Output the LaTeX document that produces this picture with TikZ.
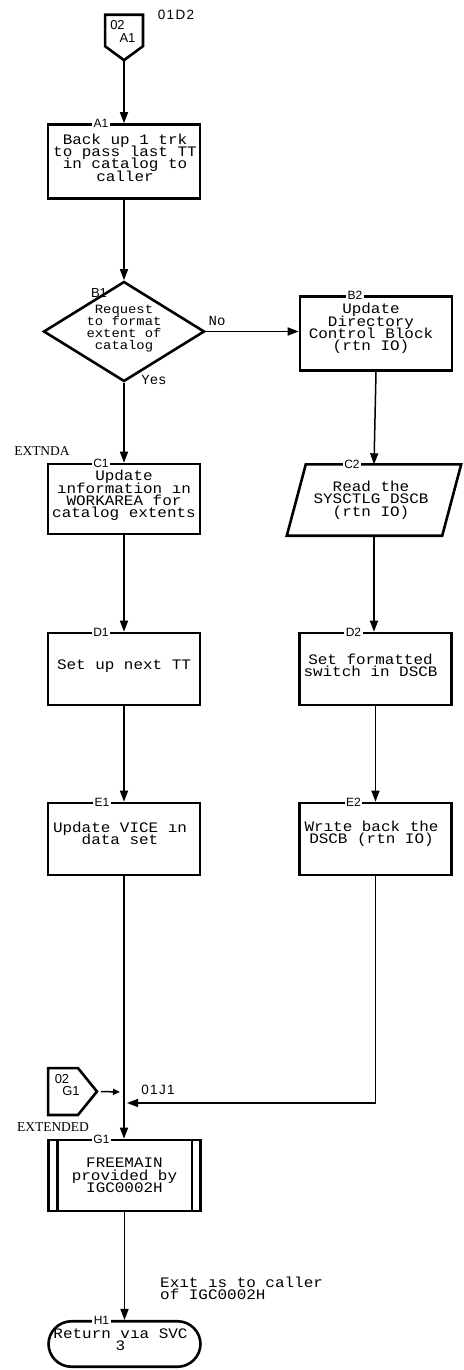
\documentclass[tikz,border=0pt]{standalone}
\usepackage{fontspec}
\setmainfont{Liberation Serif}
\newfontfamily\monof[FakeStretch=1.1]{Liberation Mono}
\newfontfamily\monoplain{Liberation Mono}
\newfontfamily\sansf{Liberation Sans}
\newfontfamily\sansw[LetterSpace=10]{Liberation Sans}
\usetikzlibrary{arrows.meta,shapes.geometric}
\newcommand\tightls{\setlength{\lineskiplimit}{-30pt}\setlength{\lineskip}{0pt}}
\newcommand\boxfont{\monof\fontsize{14.5}{12.3}\selectfont\tightls}
\newcommand\dfont{\monof\fontsize{12.6}{11.8}\selectfont\tightls}
\begin{document}
\begin{tikzpicture}[x=1pt,y=-1pt,
  thick line/.style={line width=2.6pt},
  box/.style={draw, thick line, minimum width=152pt, minimum height=72pt, inner sep=0pt},
  txt/.style={font=\boxfont, align=center, inner sep=0pt},
  dtxt/.style={font=\dfont, align=center, inner sep=0pt},
  lbl/.style={font=\sansf\fontsize{12}{12}\selectfont, fill=white, inner xsep=1.5pt, inner ysep=0pt},
  idlbl/.style={font=\sansf\fontsize{13}{13}\selectfont, inner sep=0pt},
  yn/.style={font=\monoplain\fontsize{14}{14}\selectfont, inner sep=0pt},
  ref/.style={font=\sansw\fontsize{13.5}{13.5}\selectfont, inner sep=0pt},
  entry/.style={font=\fontsize{13.5}{13.5}\selectfont, inner sep=0pt},
  conn/.style={line width=1.5pt},
  arr/.style={conn, -{Triangle[length=11pt,width=8pt]}},
  sarr/.style={conn, -{Triangle[length=7pt,width=6pt]}},
]
\useasboundingbox (0,0) rectangle (463,1370);

% off-page connector 02 A1
\node[minimum width=37.5pt, minimum height=45pt, inner sep=0pt] (OP1) at (124,37.5) {};
\draw[thick line, line join=miter] (OP1.north west) -- (OP1.north east) -- ([yshift=14pt]OP1.south east) -- (OP1.south) -- ([yshift=14pt]OP1.south west) -- cycle;
\node[idlbl] (OP1a) at (117.5,25) {02};
\node[idlbl] (OP1b) at (127.5,38) {A1};
\node[ref] (r01D2) at (176,15) {01D2};

% A1
\node[box, minimum height=74pt] (A1) at (124,161.5) {};
\node[lbl] (A1l) at ([xshift=-23pt,yshift=-0.5pt]A1.north) {A1};
\node[txt] (A1t) at ([xshift=1pt,yshift=4pt]A1.center) {Back up 1 trk\\to pass last TT\\in catalog to\\caller};

% B1 decision
\node[draw, diamond, thick line, minimum width=161pt, minimum height=100pt, inner sep=0pt] (B1) at (124,331.5) {};
\node[idlbl] (B1l) at (99,293) {B1};
\node[dtxt] (B1t) at (124,328.5) {Request\\to format\\extent of\\catalog};
\node[yn] (no) at (217,321) {No};
\node[yn] (yes) at (154,380) {Yes};

% B2
\node[box, minimum height=74pt] (B2) at (376,333.5) {};
\node[lbl] (B2l) at ([xshift=-21pt,yshift=-0.5pt]B2.north) {B2};
\node[txt] (B2t) at ([xshift=-5pt,yshift=5pt]B2.center) {Update\\Directory\\Control Block\\(rtn IO)};

% C1
\node[entry] (extnda) at (42,451) {EXTNDA};
\node[box, minimum height=70pt] (C1) at (124,499) {};
\node[lbl] (C1l) at ([xshift=-23pt,yshift=-0.5pt]C1.north) {C1};
\node[txt] (C1t) at ([yshift=3.5pt]C1.center) {Update\\ınformation ın\\WORKAREA for\\catalog extents};

% C2 (input/output parallelogram)
\node[minimum width=155pt, minimum height=71pt, inner sep=0pt] (C2) at (374,500) {};
\draw[thick line, line join=miter] ([xshift=9.5pt]C2.north west) -- ([xshift=9.5pt]C2.north east) -- ([xshift=-9.5pt]C2.south east) -- ([xshift=-9.5pt]C2.south west) -- cycle;
\node[lbl] (C2l) at ([xshift=-22pt,yshift=-0.5pt]C2.north) {C2};
\node[txt] (C2t) at ([xshift=-3pt]C2.center) {Read the\\SYSCTLG DSCB\\(rtn IO)};

% D1, D2
\node[box] (D1) at (124,669) {};
\node[lbl] (D1l) at ([xshift=-23pt,yshift=-0.5pt]D1.north) {D1};
\node[txt] (D1t) at ([yshift=3pt]D1.center) {Set up next TT};
\node[box] (D2) at (375.5,669) {};
\node[lbl] (D2l) at ([xshift=-22pt,yshift=-0.5pt]D2.north) {D2};
\node[txt] (D2t) at ([xshift=-5pt,yshift=4pt]D2.center) {Set formatted\\switch in DSCB};

% E1, E2
\node[box] (E1) at (124,839) {};
\node[lbl] (E1l) at ([xshift=-22pt,yshift=-0.5pt]E1.north) {E1};
\node[txt] (E1t) at ([xshift=-4pt,yshift=5.5pt]E1.center) {Update VICE ın\\data set};
\node[box] (E2) at (375.5,839) {};
\node[lbl] (E2l) at ([xshift=-22pt,yshift=-0.5pt]E2.north) {E2};
\node[txt] (E2t) at ([xshift=-4pt,yshift=5.5pt]E2.center) {Wrıte back the\\DSCB (rtn IO)};

% off-page connector 02 G1
\node[minimum width=48.5pt, minimum height=46.5pt, inner sep=0pt] (OP2) at (72.5,1091.5) {};
\draw[thick line, line join=miter] (OP2.north west) -- ([xshift=-19pt]OP2.north east) -- (OP2.east) -- ([xshift=-19pt]OP2.south east) -- (OP2.south west) -- cycle;
\node[idlbl] (OP2a) at (62,1079) {02};
\node[idlbl] (OP2b) at (71,1091.5) {G1};
\node[entry] (extended) at (53,1127) {EXTENDED};
\node[ref] (r01J1) at (158,1090) {01J1};
\coordinate (J1) at (120,1092);
\coordinate (J2) at (127,1103);

% G1 predefined process
\node[box, minimum height=71pt] (G1) at (124.5,1175.5) {};
\draw[thick line] ([xshift=10pt]G1.north west) -- ([xshift=10pt]G1.south west);
\draw[thick line] ([xshift=-10pt]G1.north east) -- ([xshift=-10pt]G1.south east);
\node[lbl] (G1l) at ([xshift=-23pt,yshift=-0.5pt]G1.north) {G1};
\node[txt] (G1t) at (G1.center) {FREEMAIN\\provided by\\IGC0002H};

% H1 terminal
\node[box, rounded corners=23pt, minimum height=45.5pt] (H1) at (124.5,1344) {};
\node[lbl] (H1l) at ([xshift=-23pt,yshift=-0.5pt]H1.north) {H1};
\node[txt] (H1t) at ([xshift=-4pt,yshift=4pt]H1.center) {Return vıa SVC\\3};
\node[txt, align=left, anchor=west] (exitnote) at (160,1288) {Exıt ıs to caller\\of IGC0002H};

% connectors
\draw[arr] (OP1.south) -- (A1.north);
\draw[arr] (A1.south) -- (B1.north);
\draw[arr] (B1.east) -- (B1.east -| B2.west);
\draw[arr] (B1.south) -- (C1.north);
\draw[arr] (B2.south) -- (C2.north);
\draw[arr] (C1.south) -- (D1.north);
\draw[arr] (C2.south) -- (C2.south |- D2.north);
\draw[arr] (D1.south) -- (E1.north);
\draw[arr] (D2.south) -- (E2.north);
\draw[arr] (E1.south) -- (E1.south |- G1.north);
\draw[arr] (E2.south) |- (J2);
\draw[sarr] ([xshift=4pt]OP2.east) -- (J1);
\draw[arr] (G1.south) -- (G1.south |- H1.north);
\end{tikzpicture}
\end{document}
